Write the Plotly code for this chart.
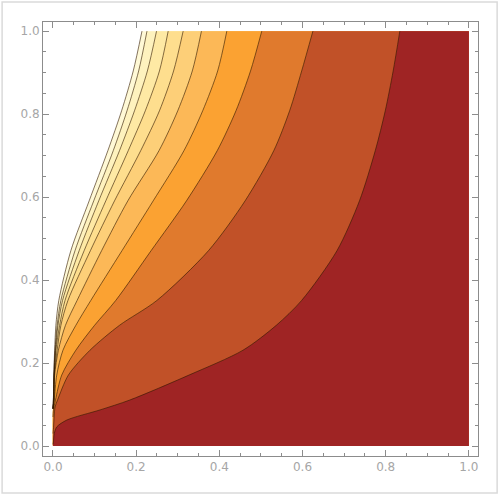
import plotly.graph_objects as go

y_rows = [1.0, 0.904, 0.808, 0.712, 0.591, 0.471, 0.351, 0.291, 0.231, 0.171, 0.111]

# x position of each contour line at those y levels (left to right)
x_edge = [0.214, 0.193, 0.165, 0.132, 0.087, 0.043, 0.014, 0.007, 0.004, 0.002, 0.001]
x_c1 = [0.226, 0.206, 0.178, 0.145, 0.098, 0.053, 0.019, 0.010, 0.005, 0.002, 0.001]
x_c2 = [0.249, 0.227, 0.196, 0.160, 0.110, 0.063, 0.023, 0.012, 0.006, 0.003, 0.001]
x_c3 = [0.277, 0.256, 0.222, 0.181, 0.127, 0.075, 0.029, 0.016, 0.007, 0.003, 0.002]
x_c4 = [0.313, 0.290, 0.256, 0.211, 0.148, 0.090, 0.036, 0.019, 0.010, 0.003, 0.002]
x_c5 = [0.357, 0.335, 0.300, 0.255, 0.180, 0.117, 0.058, 0.030, 0.013, 0.004, 0.002]
x_c6 = [0.418, 0.396, 0.360, 0.315, 0.241, 0.166, 0.091, 0.055, 0.024, 0.009, 0.003]
x_c7 = [0.502, 0.475, 0.440, 0.395, 0.321, 0.236, 0.151, 0.100, 0.055, 0.021, 0.006]
x_c8 = [0.625, 0.598, 0.569, 0.531, 0.462, 0.374, 0.250, 0.160, 0.089, 0.037, 0.011]
x_c9 = [0.834, 0.818, 0.799, 0.775, 0.737, 0.683, 0.598, 0.537, 0.457, 0.327, 0.185]

# extra points near the origin, where the lines bend into x = 0
tail_x_plain = [0.0]
tail_y_plain = [0.09]
tail_x_c7 = [0.001, 0.0]
tail_y_c7 = [0.085, 0.07]
tail_x_c8 = [0.005, 0.001, 0.0]
tail_y_c8 = [0.094, 0.040, 0.03]
tail_x_c9 = [0.113, 0.033, 0.009, 0.003, 0.001, 0.0]
tail_y_c9 = [0.087, 0.0625, 0.046, 0.030, 0.010, 0.004]

band_colors = ["#FFF9D6", "#FEF2BE", "#FEE9A4", "#FEDE8E", "#FDCF78",
               "#FCB857", "#FBA232", "#E07A2D", "#C15128", "#9F2424"]

curves = [
    (x_edge, tail_x_plain, tail_y_plain),
    (x_c1, tail_x_plain, tail_y_plain),
    (x_c2, tail_x_plain, tail_y_plain),
    (x_c3, tail_x_plain, tail_y_plain),
    (x_c4, tail_x_plain, tail_y_plain),
    (x_c5, tail_x_plain, tail_y_plain),
    (x_c6, tail_x_plain, tail_y_plain),
    (x_c7, tail_x_c7, tail_y_c7),
    (x_c8, tail_x_c8, tail_y_c8),
    (x_c9, tail_x_c9, tail_y_c9),
]

# corners of the unit square, with close neighbours so the spline keeps them sharp
corner_x = [0.0, 0.0, 0.001, 0.999, 1.0, 1.0, 1.0]
corner_y = [0.001, 0.0, 0.0, 0.0, 0.0, 0.001, 1.0]

fig = go.Figure()

# each band = area to the right of its contour line, stacked light -> dark
lines = []
for (xs, tx, ty), col in zip(curves, band_colors):
    cx = list(xs) + list(tx)
    cy = list(y_rows) + list(ty)
    lines.append((cx, cy))
    fig.add_trace(go.Scatter(
        x=cx + corner_x, y=cy + corner_y,
        mode="lines", fill="toself", fillcolor=col,
        line=dict(width=0, shape="spline", smoothing=0.8),
        hoverinfo="skip", showlegend=False))

for cx, cy in lines:
    fig.add_trace(go.Scatter(
        x=cx, y=cy, mode="lines",
        line=dict(color="rgba(50,25,0,0.6)", width=1, shape="spline", smoothing=0.8),
        hoverinfo="skip", showlegend=False))

axis_style = dict(
    showgrid=False, zeroline=False, showline=True, linecolor="#8c8c8c",
    linewidth=1, mirror="ticks", ticks="inside", ticklen=6, tickcolor="#8c8c8c",
    dtick=0.2, tick0=0, tickformat=".1f", automargin=False,
    tickfont=dict(family="DejaVu Sans", size=12, color="#a6a6a6"),
    minor=dict(ticks="inside", dtick=0.05, ticklen=3, tickcolor="#8c8c8c"),
)

fig.update_xaxes(range=[-0.024, 1.022], **axis_style)
fig.update_yaxes(range=[-0.024, 1.022], **axis_style)

fig.add_shape(type="rect", xref="paper", yref="paper",
              x0=-0.094, x1=1.044, y0=-0.085, y1=1.046,
              line=dict(color="#dadada", width=1.5))

fig.update_layout(
    width=500, height=495,
    margin=dict(l=43, r=22, t=22, b=39, autoexpand=False),
    paper_bgcolor="white", plot_bgcolor="white",
)

fig.write_html("out.html", config={"displayModeBar": False},
               post_script="document.body.style.margin='0';")
